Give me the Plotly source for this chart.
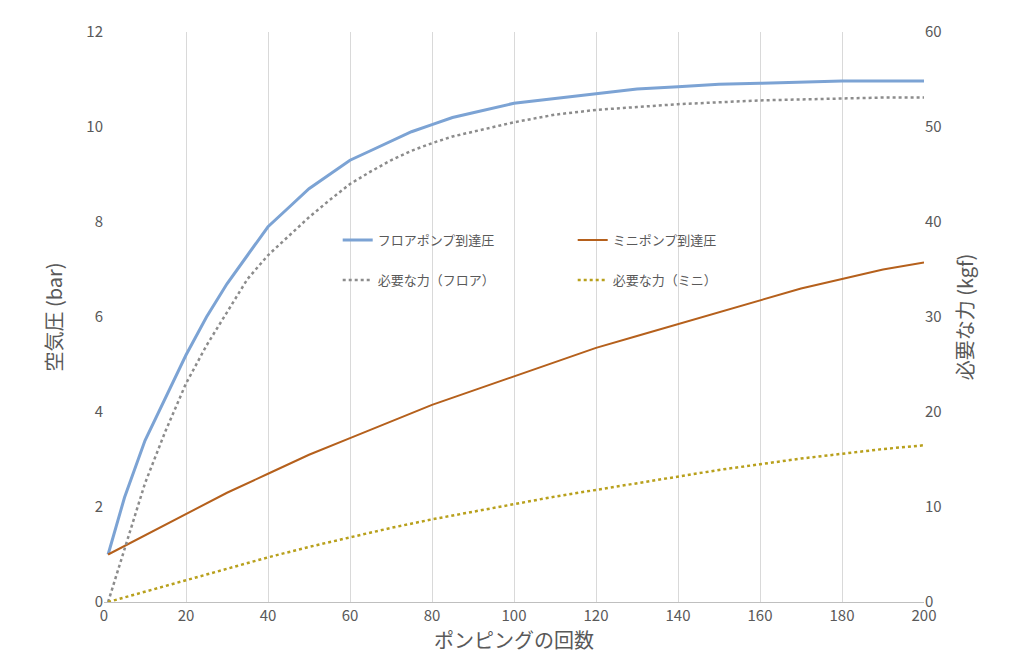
import plotly.graph_objects as go

# pump counts and readings
floor_x = [1, 5, 10, 15, 20, 25, 30, 35, 40, 45, 50, 55, 60, 65, 70, 75, 80, 85, 90, 95,
           100, 110, 120, 130, 140, 150, 160, 170, 180, 190, 200]
floor_bar = [1.0, 2.2, 3.4, 4.3, 5.2, 6.0, 6.7, 7.3, 7.9, 8.3, 8.7, 9.0, 9.3, 9.5, 9.7, 9.9,
             10.05, 10.2, 10.3, 10.4, 10.5, 10.6, 10.7, 10.8, 10.85, 10.9, 10.92, 10.95,
             10.97, 10.97, 10.97]
floor_kgf = [0.0, 5.5, 12.5, 18.0, 23.0, 27.0, 30.5, 34.0, 36.5, 38.5, 40.5, 42.3, 44.0,
             45.3, 46.5, 47.5, 48.3, 49.0, 49.5, 50.0, 50.5, 51.3, 51.8, 52.1, 52.4, 52.6,
             52.8, 52.9, 53.0, 53.1, 53.1]

mini_x = [1, 10, 20, 30, 40, 50, 60, 70, 80, 90, 100, 110, 120, 130, 140, 150, 160, 170,
          180, 190, 200]
mini_bar = [1.0, 1.4, 1.85, 2.3, 2.7, 3.1, 3.45, 3.8, 4.15, 4.45, 4.75, 5.05, 5.35, 5.6,
            5.85, 6.1, 6.35, 6.6, 6.8, 7.0, 7.15]
mini_kgf = [0.0, 1.1, 2.3, 3.5, 4.7, 5.8, 6.8, 7.8, 8.7, 9.5, 10.3, 11.1, 11.8, 12.5, 13.2,
            13.9, 14.5, 15.1, 15.6, 16.1, 16.5]

font = "Noto Sans CJK JP"
grey = "#595959"

fig = go.Figure()
fig.add_trace(go.Scatter(x=floor_x, y=floor_bar, name="フロアポンプ到達圧", mode="lines",
                         line=dict(color="#7ca3d4", width=3), legend="legend"))
fig.add_trace(go.Scatter(x=mini_x, y=mini_bar, name="ミニポンプ到達圧", mode="lines",
                         line=dict(color="#b5601c", width=2), legend="legend"))
fig.add_trace(go.Scatter(x=floor_x, y=floor_kgf, name="必要な力（フロア）", mode="lines",
                         line=dict(color="#8c8c8c", width=2.5, dash="dot"), yaxis="y2",
                         legend="legend2"))
fig.add_trace(go.Scatter(x=mini_x, y=mini_kgf, name="必要な力（ミニ）", mode="lines",
                         line=dict(color="#b8a01c", width=2.5, dash="dot"), yaxis="y2",
                         legend="legend2"))

leg = dict(orientation="h", bgcolor="rgba(0,0,0,0)", entrywidth=190, entrywidthmode="pixels",
           font=dict(family=font, size=13, color=grey), xanchor="left", yanchor="middle")

fig.update_layout(
    width=1024, height=670,
    margin=dict(l=96, r=108, t=12, b=76),
    paper_bgcolor="white", plot_bgcolor="white",
    font=dict(family=font, color=grey),
    xaxis=dict(range=[0, 200], dtick=20, showgrid=True, gridcolor="#d9d9d9",
               showline=True, linecolor="#bfbfbf", ticks="", zeroline=False,
               tickfont=dict(size=15, color=grey),
               title=dict(text="ポンピングの回数", font=dict(size=20, color=grey), standoff=8)),
    yaxis=dict(range=[0, 12], dtick=2, showgrid=False, zeroline=False,
               tickfont=dict(size=15, color=grey),
               title=dict(text="空気圧 (bar)", font=dict(size=20, color=grey), standoff=18)),
    yaxis2=dict(range=[0, 60], dtick=10, overlaying="y", side="right", showgrid=False,
                zeroline=False, tickfont=dict(size=15, color=grey),
                title=dict(text="必要な力 (kgf)", font=dict(size=20, color=grey), standoff=18)),
    legend=dict(leg, x=0.285, y=0.635),
    legend2=dict(leg, x=0.285, y=0.565),
)

fig.write_html("out.html")
